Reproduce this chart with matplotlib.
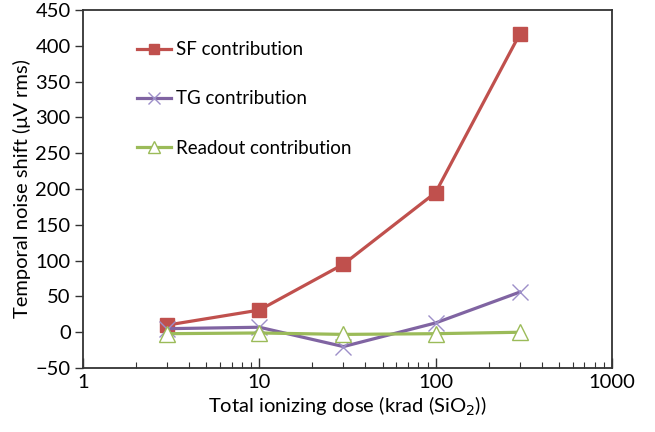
import matplotlib
matplotlib.use("Agg")
import matplotlib.pyplot as plt
from matplotlib.ticker import LogLocator, NullFormatter, FixedLocator

dose = [3, 10, 30, 100, 300]
sf = [10, 31, 95, 195, 416]
tg = [5, 7, -20, 13, 56]
readout = [-2, -1, -3, -2, 0]

xticks = [1, 10, 100, 1000]
yticks = [-50, 0, 50, 100, 150, 200, 250, 300, 350, 400, 450]

plt.rcParams['font.family'] = ['Lato', 'DejaVu Sans']

fig = plt.figure(figsize=(6.55, 4.32), dpi=100)
ax = fig.add_axes([0.127, 0.148, 0.807, 0.829])

ax.plot(dose, sf, color='#c0504d', lw=2.3, marker='s', ms=10,
        label='SF contribution')
ax.plot(dose, tg, color='#8064a2', lw=2.3, marker='x', ms=12, mew=1.0,
        mec='#9d8fc9', label='TG contribution')
ax.plot(dose, readout, color='#9bbb59', lw=2.3, marker='^', ms=11, mew=1.0,
        mfc='white', mec='#9bbb59', label='Readout contribution')

ax.set_xscale('log')
ax.set_xlim(1, 1000)
ax.set_ylim(-50, 450)
ax.xaxis.set_major_locator(FixedLocator(xticks))
ax.set_xticklabels([str(v) for v in xticks])
ax.xaxis.set_minor_locator(LogLocator(base=10, subs=range(2, 10)))
ax.xaxis.set_minor_formatter(NullFormatter())
ax.set_yticks(yticks)

ax.tick_params(axis='x', which='major', direction='in', length=7, width=1,
               labelsize=14.5, pad=4, color='#333333')
ax.tick_params(axis='x', which='minor', direction='in', length=4, width=0.8,
               color='#333333')
ax.tick_params(axis='y', direction='out', length=6, width=1, labelsize=14.5,
               pad=3, color='#333333')
for s in ax.spines.values():
    s.set_color('#333333')
    s.set_linewidth(1.3)

ax.set_xlabel('Total ionizing dose (krad (SiO$_2$))', fontsize=14.5, labelpad=3)
ax.set_ylabel('Temporal noise shift (\u03bcV rms)', fontsize=14.5, labelpad=3)

leg = ax.legend(loc='upper left', bbox_to_anchor=(0.07, 0.96), frameon=False,
                fontsize=13.5, labelspacing=1.72, handlelength=1.8,
                handletextpad=0.3, markerscale=0.75)

fig.savefig('out.png', dpi=100)
